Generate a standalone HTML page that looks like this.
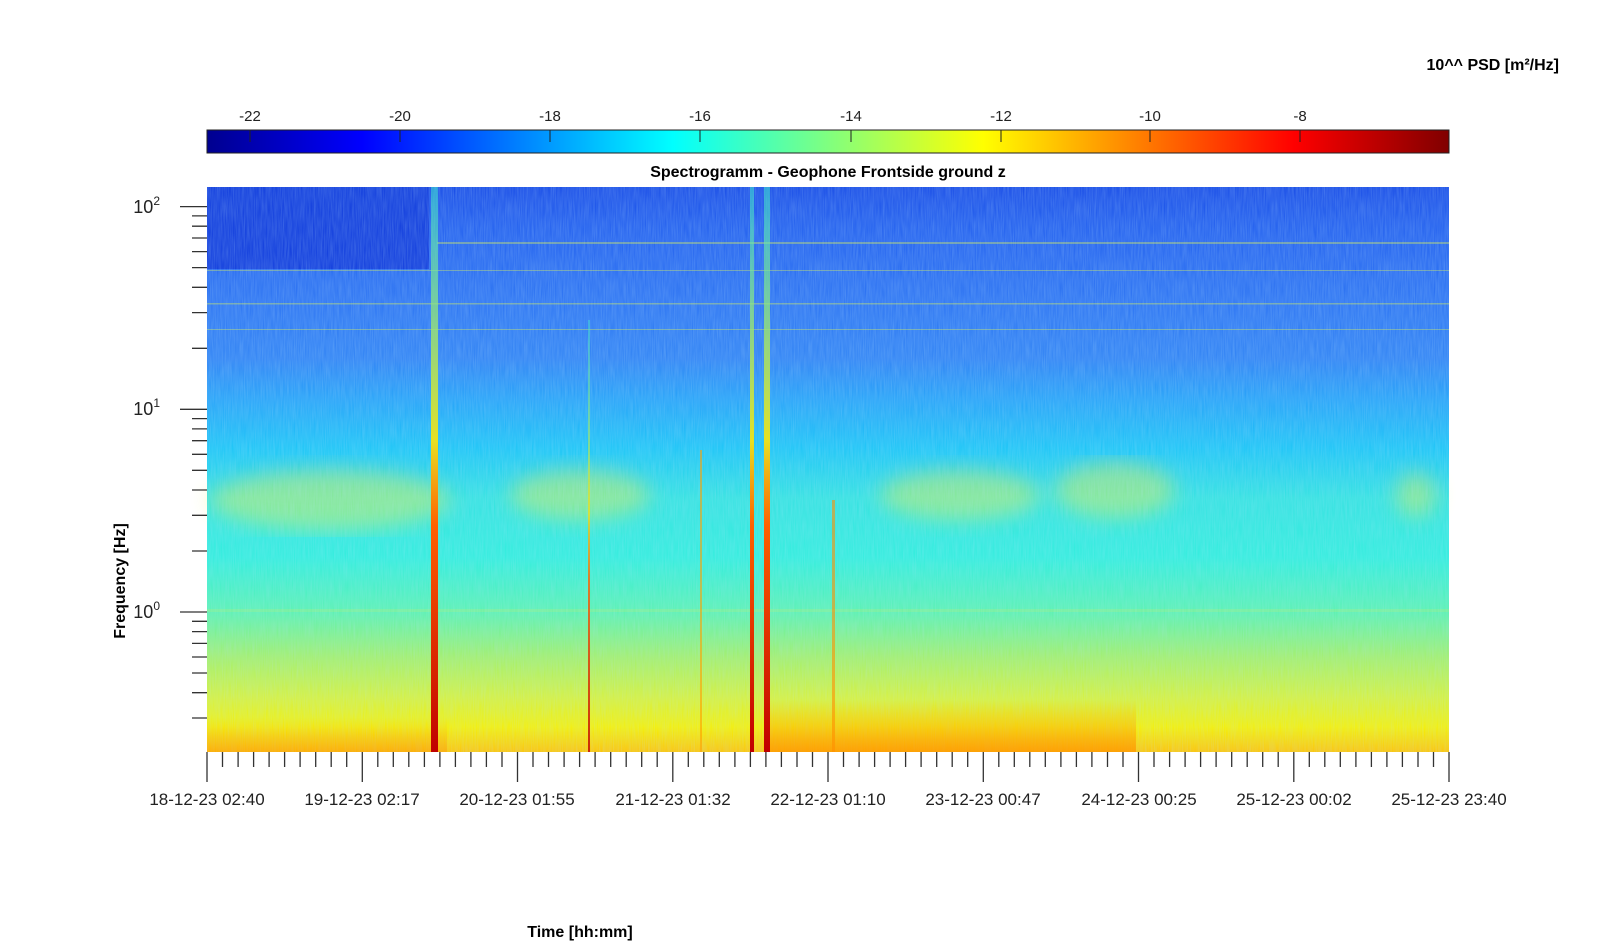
<!DOCTYPE html>
<html><head><meta charset="utf-8"><style>
body{margin:0;background:#fff;width:1600px;height:942px;overflow:hidden;font-family:"Liberation Sans",Arial,sans-serif}
svg text{font-family:"Liberation Sans",Arial,sans-serif}
</style></head><body>
<svg id="s" width="1600" height="942" xmlns="http://www.w3.org/2000/svg">
<defs>
<linearGradient id="jet" x1="0" x2="1" y1="0" y2="0">
<stop offset="0" stop-color="#00008f"/><stop offset="0.125" stop-color="#0000ff"/>
<stop offset="0.375" stop-color="#00ffff"/><stop offset="0.625" stop-color="#ffff00"/>
<stop offset="0.875" stop-color="#ff0000"/><stop offset="1" stop-color="#800000"/>
</linearGradient>
<linearGradient id="vg" x1="0" x2="0" y1="0" y2="1">
<stop offset="0" stop-color="#1448e6"/><stop offset="0.074" stop-color="#1e5cee"/>
<stop offset="0.198" stop-color="#2870f2"/><stop offset="0.303" stop-color="#2c80f4"/>
<stop offset="0.374" stop-color="#22a0f8"/><stop offset="0.462" stop-color="#18c4f6"/>
<stop offset="0.55" stop-color="#30e2e0"/><stop offset="0.656" stop-color="#2eeedc"/>
<stop offset="0.751" stop-color="#58f2b0"/><stop offset="0.832" stop-color="#a2f068"/>
<stop offset="0.903" stop-color="#d6f238"/><stop offset="0.956" stop-color="#f6f000"/>
<stop offset="1" stop-color="#ffc400"/>
</linearGradient>
<linearGradient id="redl" x1="0" x2="0" y1="0" y2="1">
<stop offset="0" stop-color="#40f0d0" stop-opacity="0.5"/><stop offset="0.45" stop-color="#e8e020"/>
<stop offset="0.6" stop-color="#ff6000"/><stop offset="1" stop-color="#c00000"/>
</linearGradient>
<linearGradient id="band" x1="0" x2="0" y1="0" y2="1">
<stop offset="0" stop-color="#ffb000" stop-opacity="0"/><stop offset="1" stop-color="#ff9800" stop-opacity="0.8"/>
</linearGradient>
<filter id="nz" x="0" y="0" width="1" height="1"><feTurbulence type="fractalNoise" baseFrequency="0.9 0.05" numOctaves="2" seed="3"/><feColorMatrix values="0 0 0 0 0.5  0 0 0 0 0.8  0 0 0 0 1  0 0 0 0.3 0"/></filter>
<filter id="bl"><feGaussianBlur stdDeviation="10"/></filter>
</defs>
<text x="1559" y="70" text-anchor="end" font-size="16" font-weight="bold">10^^ PSD [m²/Hz]</text>
<rect x="207" y="130" width="1242" height="23" fill="url(#jet)" stroke="#222" stroke-width="1"/>
<g font-size="15" fill="#222" text-anchor="middle">
<text x="250" y="121">-22</text><text x="400" y="121">-20</text><text x="550" y="121">-18</text><text x="700" y="121">-16</text>
<text x="851" y="121">-14</text><text x="1001" y="121">-12</text><text x="1150" y="121">-10</text><text x="1300" y="121">-8</text>
</g>
<g stroke="#222"><path d="M250 130v12M400 130v12M550 130v12M700 130v12M851 130v12M1001 130v12M1150 130v12M1300 130v12"/></g>
<text x="828" y="177" text-anchor="middle" font-size="16" font-weight="bold">Spectrogramm - Geophone Frontside ground z</text>
<rect x="207" y="187" width="1242" height="565" fill="url(#vg)"/>
<rect x="207" y="187" width="222" height="82" fill="#0c38dc"/>
<g fill="#e8f040" opacity="0.45" filter="url(#bl)"><ellipse cx="330" cy="500" rx="120" ry="30"/><ellipse cx="580" cy="495" rx="70" ry="25"/><ellipse cx="960" cy="495" rx="80" ry="25"/><ellipse cx="1115" cy="490" rx="60" ry="28"/><ellipse cx="1416" cy="495" rx="20" ry="22"/></g>
<rect x="207" y="187" width="1242" height="565" filter="url(#nz)"/>
<g fill="#d8f060" opacity="0.4">
<rect x="437" y="242" width="1012" height="2"/><rect x="207" y="303" width="1242" height="1.5"/><rect x="207" y="329" width="1242" height="1"/><rect x="207" y="270" width="1242" height="1"/><rect x="207" y="609" width="1242" height="3" opacity="0.5"/>
</g>
<rect x="766" y="700" width="370" height="52" fill="url(#band)"/>
<rect x="207" y="718" width="240" height="34" fill="url(#band)" opacity="0.6"/>
<rect x="431" y="187" width="7" height="565" fill="url(#redl)"/>
<rect x="750" y="187" width="4" height="565" fill="url(#redl)"/>
<rect x="764" y="187" width="6" height="565" fill="url(#redl)"/>
<rect x="588" y="320" width="2" height="432" fill="url(#redl)" opacity="0.8"/>
<rect x="700" y="450" width="2" height="302" fill="#ffa000" opacity="0.6"/>
<rect x="832" y="500" width="3" height="252" fill="#ff9000" opacity="0.6"/>
<g id="ax" stroke="#222" fill="none"></g>
<g font-size="17" fill="#222" text-anchor="middle">
<text x="207" y="805">18-12-23 02:40</text><text x="362" y="805">19-12-23 02:17</text><text x="517" y="805">20-12-23 01:55</text>
<text x="673" y="805">21-12-23 01:32</text><text x="828" y="805">22-12-23 01:10</text><text x="983" y="805">23-12-23 00:47</text>
<text x="1139" y="805">24-12-23 00:25</text><text x="1294" y="805">25-12-23 00:02</text><text x="1449" y="805">25-12-23 23:40</text>
</g>
<g font-size="18" fill="#222" text-anchor="end">
<text x="160" y="213">10<tspan font-size="12" dy="-8">2</tspan></text>
<text x="160" y="415">10<tspan font-size="12" dy="-8">1</tspan></text>
<text x="160" y="618">10<tspan font-size="12" dy="-8">0</tspan></text>
</g>
<text x="125" y="581" transform="rotate(-90 125 581)" text-anchor="middle" font-size="16" font-weight="bold">Frequency [Hz]</text>
<text x="580" y="937" text-anchor="middle" font-size="16" font-weight="bold">Time [hh:mm]</text>
</svg>
<script>
var g=document.getElementById('ax'),d='';
for(var i=0;i<=80;i++){var x=207+i*(1242/80);d+='M'+x.toFixed(1)+' 752v'+(i%10==0?30:15);}
var y0=612,dec=202.7;
for(var e=-1;e<=2;e++)for(var m=1;m<10;m++){var y=y0-dec*(e+Math.log10(m));if(y<187||y>752)continue;d+='M'+(m==1?180:192)+' '+y.toFixed(1)+'H207';}
var p=document.createElementNS('http://www.w3.org/2000/svg','path');p.setAttribute('d',d);p.setAttribute('stroke','#333');p.setAttribute('stroke-width','1.3');g.appendChild(p);
</script>
</body></html>
